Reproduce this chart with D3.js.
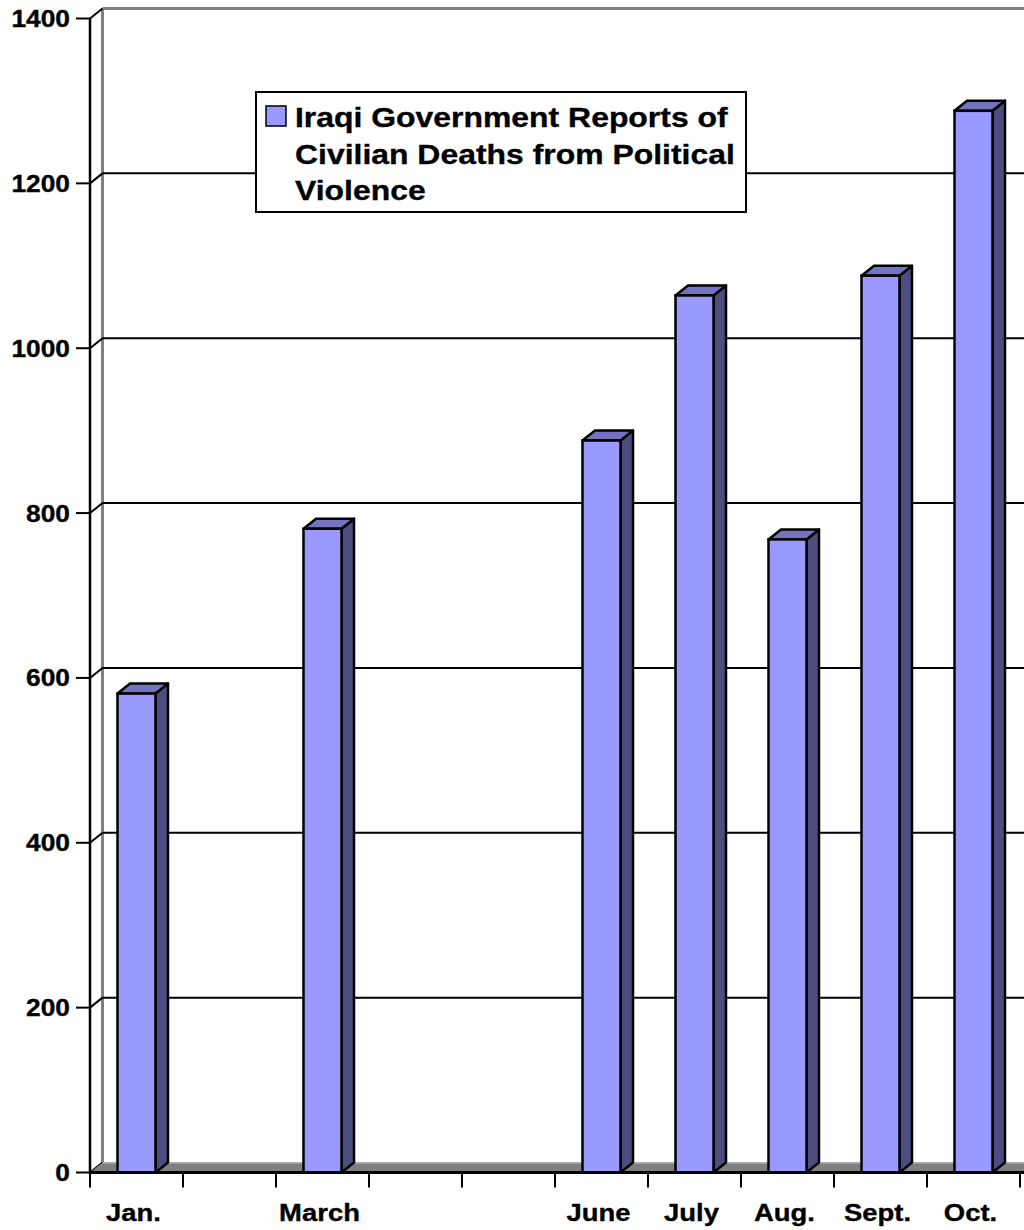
<!DOCTYPE html>
<html>
<head>
<meta charset="utf-8">
<script src="https://cdn.jsdelivr.net/npm/d3@7"></script>
<style>
  html, body { margin: 0; padding: 0; background: #fff; }
  svg { display: block; }
  text { font-family: "Liberation Sans", Arial, sans-serif; font-weight: bold; fill: #000; stroke: #000; stroke-width: 0.35px; }
</style>
</head>
<body>
<script>
// Monthly slots on the category axis (blank slots have no report)
const months = ["Jan.", "Feb.", "March", "April", "May", "June", "July", "Aug.", "Sept.", "Oct."];
const monthLabels = ["Jan.", "", "March", "", "", "June", "July", "Aug.", "Sept.", "Oct."];
// Civilian deaths reported per month (null = no figure)
const deaths = [581, null, 781, null, null, 888, 1064, 768, 1088, 1288];
const yTicks = [0, 200, 400, 600, 800, 1000, 1200, 1400];
const legendLines = ["Iraqi Government Reports of", "Civilian Deaths from Political", "Violence"];

const W = 1024, H = 1230;
const DX = 12.5, DY = -10;          // 3-D depth offset
const FRONT = "#9999FF", SIDE = "#4D4D80", TOP = "#7373BF";
const SX = 1.12;                    // horizontal stretch of the lettering

const svg = d3.select("body").append("svg").attr("width", W).attr("height", H);

const x = d3.scaleBand().domain(months).range([90, 1020]).padding(0);
const y = d3.scaleLinear().domain([0, 1400]).range([1172.5, 18.5]);
const x0 = 90, y0 = y(0);

// back wall edges
svg.append("line").attr("x1", x0 + DX).attr("x2", x0 + DX)
  .attr("y1", y0 + DY).attr("y2", y(1400) + DY)
  .attr("stroke", "#808080").attr("stroke-width", 3);
svg.append("line").attr("x1", x0 + DX).attr("x2", W + 10)
  .attr("y1", y(1400) + DY).attr("y2", y(1400) + DY)
  .attr("stroke", "#808080").attr("stroke-width", 3);

// gridlines on the back wall with their connecting diagonals
const grid = svg.append("g");
yTicks.filter(v => v > 0 && v < 1400).forEach(v => {
  grid.append("line").attr("x1", x0 + DX).attr("x2", W + 10)
    .attr("y1", y(v) + DY).attr("y2", y(v) + DY)
    .attr("stroke", "#000").attr("stroke-width", 2);
});
yTicks.forEach(v => {
  grid.append("line").attr("x1", x0).attr("x2", x0 + DX)
    .attr("y1", y(v)).attr("y2", y(v) + DY)
    .attr("stroke", "#000").attr("stroke-width", 2);
});

// floor
svg.append("path")
  .attr("d", `M${x0},${y0} L${x0 + DX},${y0 + DY} L${W + 20},${y0 + DY} L${W + 20},${y0} Z`)
  .attr("fill", "#808080");
svg.append("line").attr("x1", x0 + DX).attr("x2", W + 20)
  .attr("y1", y0 + DY + 0.5).attr("y2", y0 + DY + 0.5)
  .attr("stroke", "#a8a8a8").attr("stroke-width", 1.5);

// bars
const barW = 38;
const bars = svg.append("g").selectAll("g")
  .data(months.map((m, i) => ({ m, v: deaths[i] })).filter(d => d.v != null))
  .join("g");
bars.each(function (d) {
  const g = d3.select(this);
  const xl = x(d.m) + x.bandwidth() / 2 - barW / 2, xr = xl + barW;
  const yt = y(d.v);
  g.append("path")
    .attr("d", `M${xr},${y0} L${xr + DX},${y0 + DY} L${xr + DX},${yt + DY} L${xr},${yt} Z`)
    .attr("fill", SIDE).attr("stroke", "#000").attr("stroke-width", 2.5).attr("stroke-linejoin", "round");
  g.append("path")
    .attr("d", `M${xl},${yt} L${xl + DX},${yt + DY} L${xr + DX},${yt + DY} L${xr},${yt} Z`)
    .attr("fill", TOP).attr("stroke", "#000").attr("stroke-width", 2.5).attr("stroke-linejoin", "round");
  g.append("rect").attr("x", xl).attr("y", yt).attr("width", barW).attr("height", y0 - yt)
    .attr("fill", FRONT).attr("stroke", "#000").attr("stroke-width", 2.5);
});

// front axes
svg.append("line").attr("x1", x0).attr("x2", x0).attr("y1", y(1400)).attr("y2", y0 + 1)
  .attr("stroke", "#000").attr("stroke-width", 2.5);
svg.append("line").attr("x1", x0).attr("x2", W + 10).attr("y1", y0).attr("y2", y0)
  .attr("stroke", "#000").attr("stroke-width", 3);

// y ticks and labels
const yAx = svg.append("g");
yTicks.forEach(v => {
  yAx.append("line").attr("x1", 76).attr("x2", x0).attr("y1", y(v)).attr("y2", y(v))
    .attr("stroke", "#000").attr("stroke-width", 2);
  yAx.append("text")
    .attr("transform", `translate(70,${y(v) + 8.5}) scale(${SX},1)`)
    .attr("text-anchor", "end").attr("font-size", 23.5).text(v);
});

// x ticks and labels
const xAx = svg.append("g");
months.forEach((m, i) => {
  xAx.append("line").attr("x1", x(m)).attr("x2", x(m)).attr("y1", y0).attr("y2", y0 + 15)
    .attr("stroke", "#000").attr("stroke-width", 2);
  if (monthLabels[i]) {
    xAx.append("text")
      .attr("transform", `translate(${x(m) + x.bandwidth() / 2 - 3},1221) scale(${SX},1)`)
      .attr("text-anchor", "middle").attr("font-size", 24.5).text(monthLabels[i]);
  }
});
xAx.append("line").attr("x1", 1020).attr("x2", 1020).attr("y1", y0).attr("y2", y0 + 15)
  .attr("stroke", "#000").attr("stroke-width", 2);

// legend
const lg = svg.append("g");
lg.append("rect").attr("x", 256).attr("y", 92).attr("width", 490).attr("height", 120)
  .attr("fill", "#fff").attr("stroke", "#000").attr("stroke-width", 2);
lg.append("rect").attr("x", 266).attr("y", 106).attr("width", 20).attr("height", 20)
  .attr("fill", FRONT).attr("stroke", "#000").attr("stroke-width", 1.5);
legendLines.forEach((t, i) => {
  lg.append("text")
    .attr("transform", `translate(295,${127 + i * 36.5}) scale(${SX},1)`)
    .attr("font-size", 28.5).text(t);
});
</script>
</body>
</html>
